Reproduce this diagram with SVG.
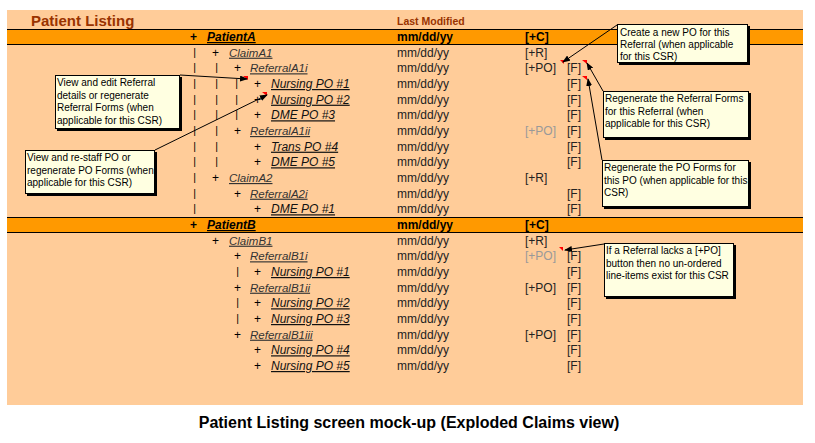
<svg xmlns="http://www.w3.org/2000/svg" width="815" height="443" viewBox="0 0 815 443">
<style>
text{font-family:'Liberation Sans',Arial,sans-serif;}
.t{font-size:12px;fill:#222;}
.k{font-size:12px;fill:#000;text-anchor:middle;}
.v{font-size:10.5px;fill:#000;text-anchor:middle;}
.b{font-weight:bold;fill:#000;}
.pt{font-size:12px;font-weight:bold;font-style:italic;text-decoration:underline;fill:#000;}
.cr{font-size:11.5px;font-style:italic;text-decoration:underline;fill:#333;}
.po{font-size:12px;font-style:italic;text-decoration:underline;fill:#111;}
.g{fill:#999;}
.note{font-size:10px;fill:#000;}
.box{fill:#FFFFE1;stroke:#000;stroke-width:1;}
.sh{fill:#000;}
.bar{fill:#FF9900;}
.barline{stroke:#000;stroke-width:1;}
.red{fill:#FF0000;}
.con{stroke:#000;stroke-width:1;fill:none;marker-end:url(#ah);}
</style>
<defs>
<marker id="ah" markerUnits="userSpaceOnUse" markerWidth="8" markerHeight="6" refX="7" refY="3" orient="auto">
<path d="M0,0 L8,3 L0,6 z" fill="#000"/>
</marker>
</defs>
<rect x="0" y="0" width="815" height="443" fill="#fff"/>
<rect x="7" y="10" width="796" height="395" fill="#FFCC99"/>
<g id="header">
<text x="31" y="26" style="font-size:15px;font-weight:bold;fill:#993300">Patient Listing</text>
<text x="397" y="25" style="font-size:10.5px;font-weight:bold;fill:#993300">Last Modified</text>
</g>
<g id="bars">
<rect class="bar" x="7" y="29" width="796" height="16"/>
<line class="barline" x1="7" y1="29.5" x2="803" y2="29.5"/>
<line class="barline" x1="7" y1="44.5" x2="803" y2="44.5"/>
<rect class="bar" x="7" y="217" width="796" height="16"/>
<line class="barline" x1="7" y1="217.5" x2="803" y2="217.5"/>
<line class="barline" x1="7" y1="232.5" x2="803" y2="232.5"/>
</g>
<g id="row-patientA">
<text class="k b" x="193.5" y="41">+</text><text class="pt" x="207" y="41">PatientA</text>
<text class="t b" x="397" y="41">mm/dd/yy</text><text class="t b" x="525" y="41">[+C]</text>
</g>
<g id="row-claimA1">
<text class="v" x="194.5" y="55.5">|</text><text class="k" x="215.5" y="56.7">+</text><text class="cr" x="229" y="56.7">ClaimA1</text>
<text class="t" x="397" y="56.7">mm/dd/yy</text><text class="t" x="525" y="56.7">[+R]</text>
</g>
<g id="row-referralA1i">
<text class="v" x="194.5" y="71.1">|</text><text class="v" x="216.5" y="71.1">|</text><text class="k" x="237.5" y="72.3">+</text><text class="cr" x="250" y="72.3">ReferralA1i</text>
<text class="t" x="397" y="72.3">mm/dd/yy</text><text class="t" x="525" y="72.3">[+PO]</text><text class="t" x="567" y="72.3">[F]</text>
</g>
<g id="row-nursingA1">
<text class="v" x="194.5" y="86.8">|</text><text class="v" x="216.5" y="86.8">|</text><text class="v" x="236.5" y="86.8">|</text><text class="k" x="257.5" y="88">+</text><text class="po" x="271" y="88">Nursing PO #1</text>
<text class="t" x="397" y="88">mm/dd/yy</text><text class="t" x="567" y="88">[F]</text>
</g>
<g id="row-nursingA2">
<text class="v" x="194.5" y="102.5">|</text><text class="v" x="216.5" y="102.5">|</text><text class="v" x="236.5" y="102.5">|</text><text class="k" x="257.5" y="103.7">+</text><text class="po" x="271" y="103.7">Nursing PO #2</text>
<text class="t" x="397" y="103.7">mm/dd/yy</text><text class="t" x="567" y="103.7">[F]</text>
</g>
<g id="row-dmeA3">
<text class="v" x="194.5" y="118.1">|</text><text class="v" x="216.5" y="118.1">|</text><text class="v" x="236.5" y="118.1">|</text><text class="k" x="257.5" y="119.3">+</text><text class="po" x="271" y="119.3">DME PO #3</text>
<text class="t" x="397" y="119.3">mm/dd/yy</text><text class="t" x="567" y="119.3">[F]</text>
</g>
<g id="row-referralA1ii">
<text class="v" x="194.5" y="133.8">|</text><text class="v" x="216.5" y="133.8">|</text><text class="k" x="237.5" y="135">+</text><text class="cr" x="250" y="135">ReferralA1ii</text>
<text class="t" x="397" y="135">mm/dd/yy</text><text class="t g" x="525" y="135">[+PO]</text><text class="t" x="567" y="135">[F]</text>
</g>
<g id="row-transA4">
<text class="v" x="194.5" y="149.5">|</text><text class="v" x="216.5" y="149.5">|</text><text class="k" x="257.5" y="150.7">+</text><text class="po" x="271" y="150.7">Trans PO #4</text>
<text class="t" x="397" y="150.7">mm/dd/yy</text><text class="t" x="567" y="150.7">[F]</text>
</g>
<g id="row-dmeA5">
<text class="v" x="194.5" y="165.1">|</text><text class="v" x="216.5" y="165.1">|</text><text class="k" x="257.5" y="166.3">+</text><text class="po" x="271" y="166.3">DME PO #5</text>
<text class="t" x="397" y="166.3">mm/dd/yy</text><text class="t" x="567" y="166.3">[F]</text>
</g>
<g id="row-claimA2">
<text class="v" x="194.5" y="180.8">|</text><text class="k" x="215.5" y="182">+</text><text class="cr" x="229" y="182">ClaimA2</text>
<text class="t" x="397" y="182">mm/dd/yy</text><text class="t" x="525" y="182">[+R]</text>
</g>
<g id="row-referralA2i">
<text class="v" x="194.5" y="196.5">|</text><text class="k" x="237.5" y="197.7">+</text><text class="cr" x="250" y="197.7">ReferralA2i</text>
<text class="t" x="397" y="197.7">mm/dd/yy</text><text class="t" x="567" y="197.7">[F]</text>
</g>
<g id="row-dmeA2-1">
<text class="v" x="194.5" y="212.1">|</text><text class="k" x="257.5" y="213.3">+</text><text class="po" x="271" y="213.3">DME PO #1</text>
<text class="t" x="397" y="213.3">mm/dd/yy</text><text class="t" x="567" y="213.3">[F]</text>
</g>
<g id="row-patientB">
<text class="k b" x="193.5" y="229">+</text><text class="pt" x="207" y="229">PatientB</text>
<text class="t b" x="397" y="229">mm/dd/yy</text><text class="t b" x="525" y="229">[+C]</text>
</g>
<g id="row-claimB1">
<text class="k" x="215.5" y="244.7">+</text><text class="cr" x="229" y="244.7">ClaimB1</text>
<text class="t" x="397" y="244.7">mm/dd/yy</text><text class="t" x="525" y="244.7">[+R]</text>
</g>
<g id="row-referralB1i">
<text class="k" x="237.5" y="260.3">+</text><text class="cr" x="250" y="260.3">ReferralB1i</text>
<text class="t" x="397" y="260.3">mm/dd/yy</text><text class="t g" x="525" y="260.3">[+PO]</text><text class="t" x="567" y="260.3">[F]</text>
</g>
<g id="row-nursingB1">
<text class="v" x="237.5" y="274.8">|</text><text class="k" x="257.5" y="276">+</text><text class="po" x="271" y="276">Nursing PO #1</text>
<text class="t" x="397" y="276">mm/dd/yy</text><text class="t" x="567" y="276">[F]</text>
</g>
<g id="row-referralB1ii">
<text class="k" x="237.5" y="291.7">+</text><text class="cr" x="250" y="291.7">ReferralB1ii</text>
<text class="t" x="397" y="291.7">mm/dd/yy</text><text class="t" x="525" y="291.7">[+PO]</text><text class="t" x="567" y="291.7">[F]</text>
</g>
<g id="row-nursingB2">
<text class="v" x="237.5" y="306.1">|</text><text class="k" x="257.5" y="307.3">+</text><text class="po" x="271" y="307.3">Nursing PO #2</text>
<text class="t" x="397" y="307.3">mm/dd/yy</text><text class="t" x="567" y="307.3">[F]</text>
</g>
<g id="row-nursingB3">
<text class="v" x="237.5" y="321.8">|</text><text class="k" x="257.5" y="323">+</text><text class="po" x="271" y="323">Nursing PO #3</text>
<text class="t" x="397" y="323">mm/dd/yy</text><text class="t" x="567" y="323">[F]</text>
</g>
<g id="row-referralB1iii">
<text class="k" x="237.5" y="338.7">+</text><text class="cr" x="250" y="338.7">ReferralB1iii</text>
<text class="t" x="397" y="338.7">mm/dd/yy</text><text class="t" x="525" y="338.7">[+PO]</text><text class="t" x="567" y="338.7">[F]</text>
</g>
<g id="row-nursingB4">
<text class="k" x="257.5" y="354.3">+</text><text class="po" x="271" y="354.3">Nursing PO #4</text>
<text class="t" x="397" y="354.3">mm/dd/yy</text><text class="t" x="567" y="354.3">[F]</text>
</g>
<g id="row-nursingB5">
<text class="k" x="257.5" y="370">+</text><text class="po" x="271" y="370">Nursing PO #5</text>
<text class="t" x="397" y="370">mm/dd/yy</text><text class="t" x="567" y="370">[F]</text>
</g>
<g id="indicators">
<polygon class="red" points="560,60 564,60 564,64"/>
<polygon class="red" points="582,60 587,60 587,64"/>
<polygon class="red" points="582,76 587,76 587,80"/>
<polygon class="red" points="559,247 563,247 563,251"/>
<polygon class="red" points="243,76 248,76 248,80"/>
<polygon class="red" points="262,92 267,92 267,96"/>
</g>
<g id="note-edit-referral">
<rect class="sh" x="57" y="77" width="125" height="54"/>
<rect class="box" x="55.5" y="75.5" width="124" height="53"/>
<text class="note" x="57" y="86">View and edit Referral</text>
<text class="note" x="57" y="98.5">details or regenerate</text>
<text class="note" x="57" y="111">Referral Forms (when</text>
<text class="note" x="57" y="123.5">applicable for this CSR)</text>
</g>
<g id="note-restaff-po">
<rect class="sh" x="27" y="152" width="130" height="44"/>
<rect class="box" x="25.5" y="150.5" width="129" height="43"/>
<text class="note" x="27" y="161">View and re-staff PO or</text>
<text class="note" x="27" y="173.5">regenerate PO Forms (when</text>
<text class="note" x="27" y="186">applicable for this CSR)</text>
</g>
<g id="note-create-po">
<rect class="sh" x="619" y="26" width="131" height="39"/>
<rect class="box" x="617.5" y="24.5" width="130" height="38"/>
<text class="note" x="620" y="35.5">Create a new PO for this</text>
<text class="note" x="620" y="48">Referral (when applicable</text>
<text class="note" x="620" y="60">for this CSR)</text>
</g>
<g id="note-regen-referral">
<rect class="sh" x="605" y="93" width="146" height="47"/>
<rect class="box" x="603.5" y="91.5" width="145" height="46"/>
<text class="note" x="605" y="102">Regenerate the Referral Forms</text>
<text class="note" x="605" y="114.5">for this Referral (when</text>
<text class="note" x="605" y="127">applicable for this CSR)</text>
</g>
<g id="note-regen-po">
<rect class="sh" x="604" y="162" width="147" height="47"/>
<rect class="box" x="602.5" y="160.5" width="146" height="46"/>
<text class="note" x="604" y="171">Regenerate the PO Forms for</text>
<text class="note" x="604" y="183.5">this PO (when applicable for this</text>
<text class="note" x="604" y="196">CSR)</text>
</g>
<g id="note-lacks-po">
<rect class="sh" x="606" y="245" width="130" height="54"/>
<rect class="box" x="604.5" y="243.5" width="129" height="53"/>
<text class="note" x="606" y="254">If a Referral lacks a [+PO]</text>
<text class="note" x="606" y="266.5">button then no un-ordered</text>
<text class="note" x="606" y="279">line-items exist for this CSR</text>
</g>
<g id="connectors">
<line class="con" x1="180" y1="75" x2="247" y2="79"/>
<line class="con" x1="155" y1="150" x2="267" y2="95"/>
<line class="con" x1="617" y1="25" x2="563" y2="62"/>
<line class="con" x1="603" y1="91" x2="587" y2="63"/>
<line class="con" x1="602" y1="160" x2="588" y2="79"/>
<line class="con" x1="604" y1="244" x2="565" y2="250"/>
</g>
<g id="caption">
<text x="409" y="428" text-anchor="middle" style="font-size:16px;font-weight:bold;fill:#000">Patient Listing screen mock-up (Exploded Claims view)</text>
</g>
</svg>
